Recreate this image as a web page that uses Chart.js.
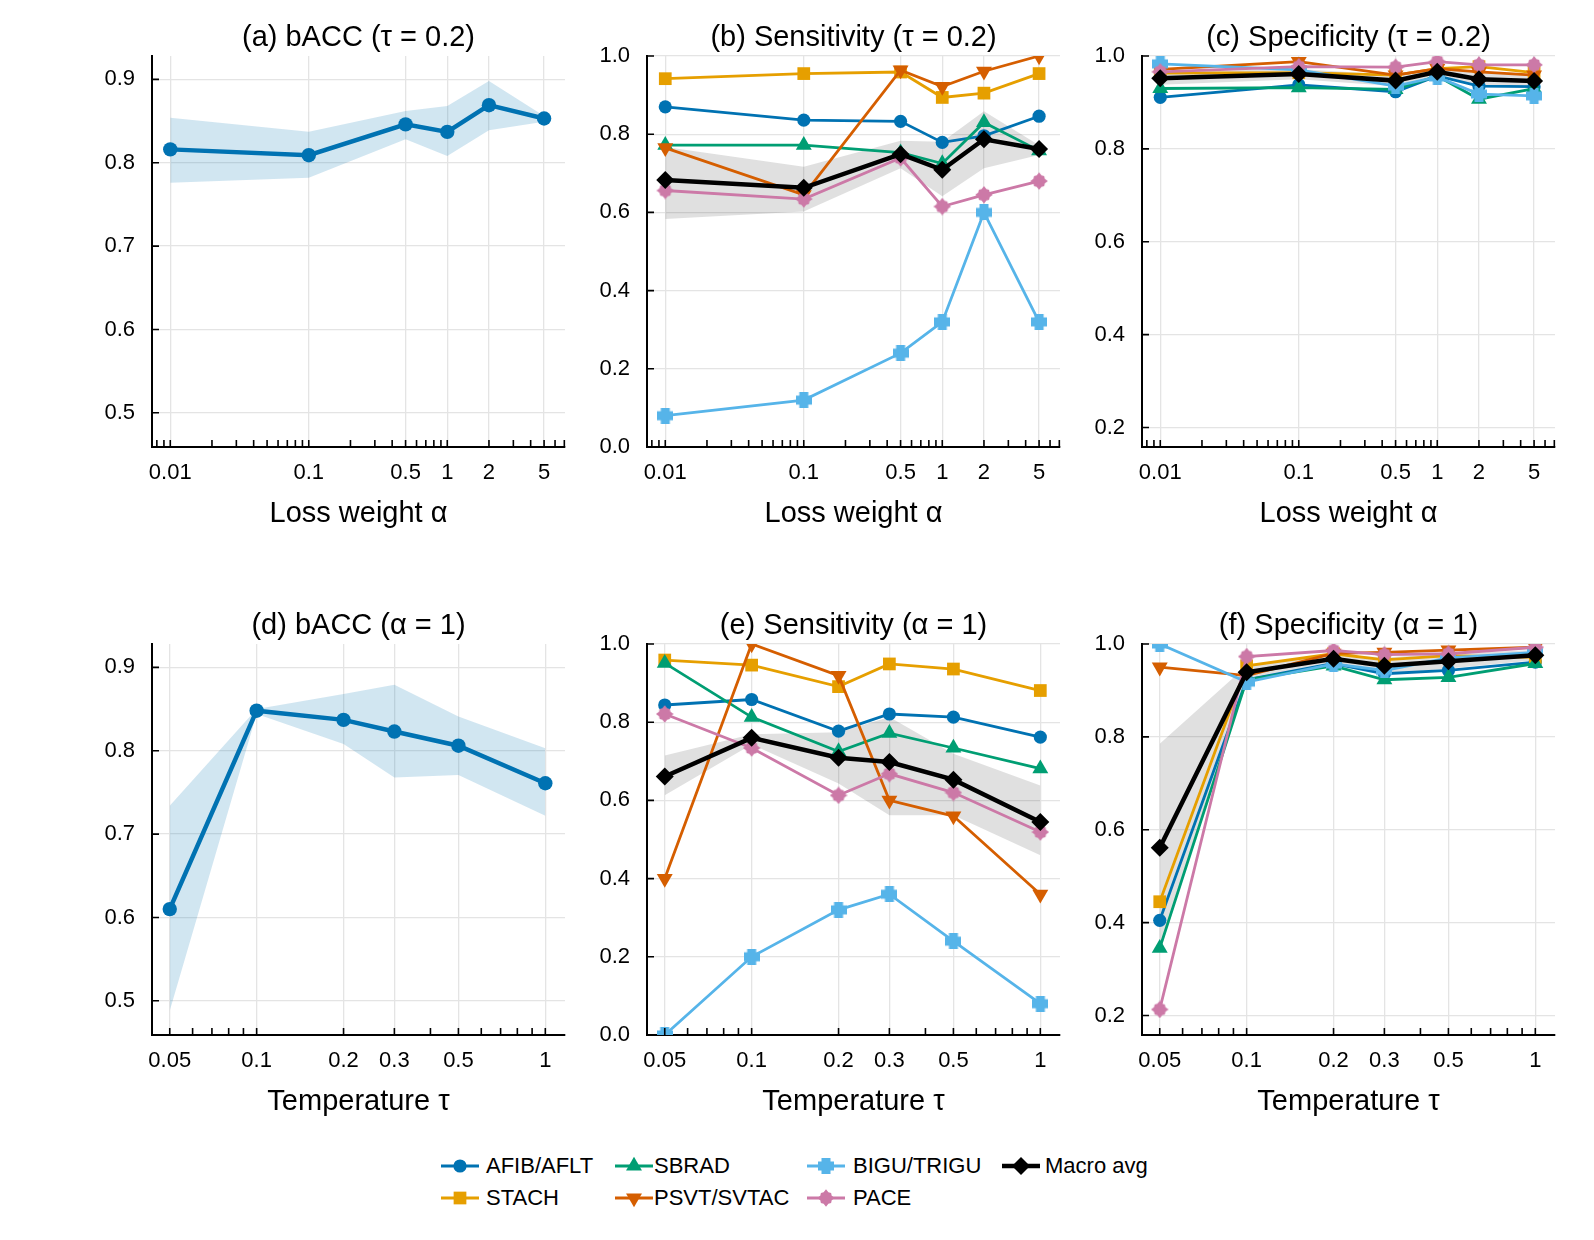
<!DOCTYPE html>
<html>
<head>
<meta charset="utf-8">
<script src="https://cdn.jsdelivr.net/npm/chart.js@4.4.1/dist/chart.umd.min.js"></script>
<style>
  body { margin: 0; background: #fff; width: 1594px; height: 1240px; position: relative; overflow: hidden;
         font-family: 'Liberation Sans', Arial, Helvetica, sans-serif; }
  canvas.panel { position: absolute; }
  .leg-icon { position: absolute; }
  .leg-text { position: absolute; font-size: 22px; line-height: 24px; color: #000; white-space: nowrap; }
</style>
</head>
<body>
<canvas class="panel" id="pa"></canvas>
<canvas class="panel" id="pb"></canvas>
<canvas class="panel" id="pc"></canvas>
<canvas class="panel" id="pd"></canvas>
<canvas class="panel" id="pe"></canvas>
<canvas class="panel" id="pf"></canvas>
<div id="legend"></div>

<script>
// ---- data ----
const alphas = [0.01, 0.1, 0.5, 1, 2, 5];
const taus = [0.05, 0.1, 0.2, 0.3, 0.5, 1];
const alphaTickLabels = ['0.01', '0.1', '0.5', '1', '2', '5'];
const tauTickLabels = ['0.05', '0.1', '0.2', '0.3', '0.5', '1'];
const baccTicks = [0.5, 0.6, 0.7, 0.8, 0.9];
const sensTicks = [0.0, 0.2, 0.4, 0.6, 0.8, 1.0];
const specTicks = [0.2, 0.4, 0.6, 0.8, 1.0];

const classNames = ['AFIB/AFLT', 'STACH', 'SBRAD', 'PSVT/SVTAC', 'BIGU/TRIGU', 'PACE'];

// (a) bACC vs alpha (tau = 0.2)
const baccAlpha   = [0.816, 0.809, 0.846, 0.837, 0.869, 0.853];
const baccAlphaLo = [0.776, 0.782, 0.828, 0.808, 0.839, 0.849];
const baccAlphaHi = [0.854, 0.837, 0.862, 0.868, 0.898, 0.856];

// (d) bACC vs tau (alpha = 1)
const baccTau   = [0.610, 0.848, 0.837, 0.823, 0.806, 0.761];
const baccTauLo = [0.488, 0.844, 0.808, 0.768, 0.771, 0.722];
const baccTauHi = [0.734, 0.850, 0.868, 0.879, 0.841, 0.803];

// (b) sensitivity vs alpha, one row per class (classNames order)
const sensAlpha = [
  [0.870, 0.836, 0.833, 0.779, 0.796, 0.846],
  [0.942, 0.955, 0.959, 0.894, 0.905, 0.955],
  [0.772, 0.772, 0.753, 0.725, 0.830, 0.758],
  [0.765, 0.645, 0.964, 0.922, 0.961, 1.000],
  [0.080, 0.120, 0.240, 0.320, 0.600, 0.320],
  [0.656, 0.634, 0.739, 0.615, 0.645, 0.680]
];
const sensAlphaMacro = [0.683, 0.663, 0.749, 0.709, 0.787, 0.762];
const sensAlphaLo    = [0.583, 0.602, 0.713, 0.641, 0.713, 0.747];
const sensAlphaHi    = [0.767, 0.717, 0.783, 0.781, 0.859, 0.772];

// (c) specificity vs alpha
const specAlpha = [
  [0.911, 0.938, 0.923, 0.957, 0.935, 0.934],
  [0.963, 0.964, 0.959, 0.973, 0.977, 0.964],
  [0.930, 0.932, 0.928, 0.957, 0.907, 0.930],
  [0.971, 0.988, 0.959, 0.973, 0.966, 0.959],
  [0.983, 0.970, 0.935, 0.955, 0.918, 0.914],
  [0.966, 0.977, 0.976, 0.988, 0.981, 0.981]
];
const specAlphaMacro = [0.952, 0.961, 0.947, 0.966, 0.950, 0.946];
const specAlphaLo    = [0.938, 0.950, 0.935, 0.958, 0.935, 0.934];
const specAlphaHi    = [0.966, 0.972, 0.959, 0.974, 0.965, 0.958];

// (e) sensitivity vs tau
const sensTau = [
  [0.844, 0.858, 0.777, 0.821, 0.813, 0.762],
  [0.959, 0.946, 0.891, 0.949, 0.936, 0.881],
  [0.951, 0.813, 0.725, 0.772, 0.734, 0.681],
  [0.400, 1.000, 0.919, 0.600, 0.560, 0.360],
  [0.000, 0.200, 0.320, 0.360, 0.240, 0.080],
  [0.821, 0.734, 0.613, 0.668, 0.620, 0.519]
];
const sensTauMacro = [0.661, 0.760, 0.709, 0.698, 0.653, 0.545];
const sensTauLo    = [0.613, 0.743, 0.643, 0.562, 0.562, 0.460];
const sensTauHi    = [0.715, 0.769, 0.774, 0.813, 0.719, 0.638];

// (f) specificity vs tau
const specTau = [
  [0.405, 0.923, 0.958, 0.936, 0.943, 0.961],
  [0.445, 0.953, 0.979, 0.966, 0.975, 0.971],
  [0.345, 0.923, 0.953, 0.923, 0.928, 0.958],
  [0.950, 0.932, 0.980, 0.982, 0.987, 0.993],
  [1.000, 0.918, 0.957, 0.943, 0.970, 0.982],
  [0.213, 0.973, 0.986, 0.977, 0.979, 0.993]
];
const specTauMacro = [0.561, 0.939, 0.968, 0.953, 0.963, 0.976];
const specTauLo    = [0.337, 0.925, 0.958, 0.935, 0.947, 0.965];
const specTauHi    = [0.785, 0.953, 0.978, 0.971, 0.979, 0.987];

// ---- styles ----
const FONT = "'Liberation Sans', Arial, Helvetica, sans-serif";
const classColors = ['#0072B2', '#E69F00', '#009E73', '#D55E00', '#56B4E9', '#CC79A7'];
const BLUE_BAND = 'rgba(0, 114, 178, 0.18)';
const GRAY_BAND = 'rgba(0, 0, 0, 0.12)';

function plusMarker(color) {
  const c = document.createElement('canvas');
  c.width = 16; c.height = 16;
  const g = c.getContext('2d');
  g.fillStyle = color;
  g.fillRect(3.5, 0, 9, 16);
  g.fillRect(0, 3.5, 16, 9);
  return c;
}

function starMarker(color) {
  const c = document.createElement('canvas');
  c.width = 18; c.height = 18;
  const g = c.getContext('2d');
  g.fillStyle = color;
  g.beginPath();
  for (let i = 0; i < 16; i++) {
    const r = i % 2 === 0 ? (i % 4 === 0 ? 8.8 : 7.2) : 6.2;
    const a = -Math.PI / 2 + i * Math.PI / 8;
    const px = 9 + r * Math.cos(a), py = 9 + r * Math.sin(a);
    if (i === 0) g.moveTo(px, py); else g.lineTo(px, py);
  }
  g.closePath();
  g.fill();
  return c;
}

// marker per class
const classPoints = [
  { point: 'circle', radius: 6.6 },
  { point: 'rect', radius: 9 },
  { point: 'triangle', radius: 9.2 },
  { point: 'triangle', radius: 9.2, rotation: 180 },
  { point: plusMarker(classColors[4]), radius: 8 },
  { point: starMarker(classColors[5]), radius: 9 }
];
const macroStyle = { color: '#000', width: 4.5, point: 'rectRot', radius: 9 };

// inward tick marks, like the reference
const innerTicks = {
  id: 'innerTicks',
  afterDatasetsDraw(chart) {
    const { ctx, chartArea: a, scales: { x, y } } = chart;
    ctx.save();
    ctx.strokeStyle = '#000';
    ctx.lineWidth = 1.6;
    ctx.beginPath();
    for (let e = -3; e <= 1; e++) {
      for (let m = 1; m <= 9; m++) {
        const v = m * Math.pow(10, e);
        if (v < x.min || v > x.max) continue;
        const px = x.getPixelForValue(v);
        ctx.moveTo(px, a.bottom);
        ctx.lineTo(px, a.bottom - 7);
      }
    }
    y.ticks.forEach(t => {
      const py = y.getPixelForValue(t.value);
      ctx.moveTo(a.left, py);
      ctx.lineTo(a.left + 7, py);
    });
    ctx.stroke();
    ctx.restore();
  }
};

function pts(xs, ys) {
  return xs.map((x, i) => ({ x, y: ys[i] }));
}

function lineSet(label, xs, ys, st, order) {
  return {
    label,
    data: pts(xs, ys),
    borderColor: st.color,
    backgroundColor: st.color,
    borderWidth: st.width,
    pointStyle: st.point,
    pointRadius: st.radius,
    pointRotation: st.rotation || 0,
    pointBackgroundColor: st.color,
    pointBorderColor: st.color,
    pointBorderWidth: 0,
    fill: false,
    tension: 0,
    clip: 0,
    order
  };
}

function bandSets(xs, lo, hi, color) {
  return [
    { data: pts(xs, lo), borderWidth: 0, pointRadius: 0, fill: false, order: 20, clip: 0 },
    { data: pts(xs, hi), borderWidth: 0, pointRadius: 0, fill: '-1', backgroundColor: color, order: 20, clip: 0 }
  ];
}

function classSets(xs, rows, macro, lo, hi) {
  const sets = bandSets(xs, lo, hi, GRAY_BAND);
  rows.forEach((ys, k) => {
    sets.push(lineSet(classNames[k], xs, ys, {
      color: classColors[k], width: 2.8,
      point: classPoints[k].point, radius: classPoints[k].radius, rotation: classPoints[k].rotation
    }, 10 - k));
  });
  sets.push(lineSet('Macro avg', xs, macro, macroStyle, 0));
  return sets;
}

const SIDE = 95, PLOT_W = 413;
function makePanel(id, plotLeft, top, opts) {
  const W = PLOT_W + 2 * SIDE, H = 537;
  const cv = document.getElementById(id);
  cv.width = W; cv.height = H;
  cv.style.left = (plotLeft - SIDE) + 'px';
  cv.style.top = top + 'px';
  cv.style.width = W + 'px';
  cv.style.height = H + 'px';
  new Chart(cv, {
    type: 'line',
    data: { datasets: opts.datasets },
    plugins: [innerTicks],
    options: {
      responsive: false,
      animation: false,
      events: [],
      devicePixelRatio: 1,
      layout: { padding: { left: 0, right: SIDE, top: 0, bottom: 0 } },
      plugins: {
        legend: { display: false },
        tooltip: { enabled: false },
        title: {
          display: true, text: opts.title, color: '#000', fullSize: false,
          font: { family: FONT, size: 29, weight: 'normal' },
          padding: { top: 21, bottom: 0.2 }
        }
      },
      scales: {
        x: {
          type: 'logarithmic',
          min: opts.xMin, max: opts.xMax,
          afterBuildTicks: s => { s.ticks = opts.xTicks.map(v => ({ value: v })); },
          afterFit: s => { s.height = 90; },
          ticks: {
            color: '#000', padding: 13, maxRotation: 0, autoSkip: false,
            font: { family: FONT, size: 22 },
            callback: (v, i) => opts.xLabels[i]
          },
          grid: { color: '#e4e4e4', lineWidth: 1.3, drawTicks: false },
          border: { display: true, color: '#000', width: 2 },
          title: {
            display: true, text: opts.xTitle, color: '#000',
            font: { family: FONT, size: 29 },
            padding: { top: 0, bottom: 6 }
          }
        },
        y: {
          type: 'linear',
          min: opts.yMin, max: opts.yMax,
          afterBuildTicks: s => { s.ticks = opts.yTicks.map(v => ({ value: v })); },
          afterFit: s => { s.width = SIDE; },
          ticks: {
            color: '#000', padding: 17,
            font: { family: FONT, size: 22 },
            callback: v => v.toFixed(1)
          },
          grid: { color: '#e4e4e4', lineWidth: 1.3, drawTicks: false },
          border: { display: true, color: '#000', width: 2 }
        }
      }
    }
  });
}

const colLeft = [152, 647, 1142];
const rowTop = [0, 588];
const alphaAxis = { xMin: 0.00738, xMax: 7.08, xTicks: alphas, xLabels: alphaTickLabels, xTitle: 'Loss weight α' };
const tauAxis = { xMin: 0.0434, xMax: 1.17, xTicks: taus, xLabels: tauTickLabels, xTitle: 'Temperature τ' };
const baccStyle = { color: '#0072B2', width: 4.5, point: 'circle', radius: 7.2 };

makePanel('pa', colLeft[0], rowTop[0], Object.assign({}, alphaAxis, {
  title: '(a) bACC (τ = 0.2)', yMin: 0.459, yMax: 0.928, yTicks: baccTicks,
  datasets: bandSets(alphas, baccAlphaLo, baccAlphaHi, BLUE_BAND).concat([lineSet('bACC', alphas, baccAlpha, baccStyle, 0)])
}));
makePanel('pb', colLeft[1], rowTop[0], Object.assign({}, alphaAxis, {
  title: '(b) Sensitivity (τ = 0.2)', yMin: 0, yMax: 1, yTicks: sensTicks,
  datasets: classSets(alphas, sensAlpha, sensAlphaMacro, sensAlphaLo, sensAlphaHi)
}));
makePanel('pc', colLeft[2], rowTop[0], Object.assign({}, alphaAxis, {
  title: '(c) Specificity (τ = 0.2)', yMin: 0.158, yMax: 1, yTicks: specTicks,
  datasets: classSets(alphas, specAlpha, specAlphaMacro, specAlphaLo, specAlphaHi)
}));
makePanel('pd', colLeft[0], rowTop[1], Object.assign({}, tauAxis, {
  title: '(d) bACC (α = 1)', yMin: 0.459, yMax: 0.928, yTicks: baccTicks,
  datasets: bandSets(taus, baccTauLo, baccTauHi, BLUE_BAND).concat([lineSet('bACC', taus, baccTau, baccStyle, 0)])
}));
makePanel('pe', colLeft[1], rowTop[1], Object.assign({}, tauAxis, {
  title: '(e) Sensitivity (α = 1)', yMin: 0, yMax: 1, yTicks: sensTicks,
  datasets: classSets(taus, sensTau, sensTauMacro, sensTauLo, sensTauHi)
}));
makePanel('pf', colLeft[2], rowTop[1], Object.assign({}, tauAxis, {
  title: '(f) Specificity (α = 1)', yMin: 0.158, yMax: 1, yTicks: specTicks,
  datasets: classSets(taus, specTau, specTauMacro, specTauLo, specTauHi)
}));

// ---- legend (column-major, 4 columns) ----
const legendSlots = [
  { k: 0, x: 441, y: 1166, tx: 486 },
  { k: 1, x: 441, y: 1198, tx: 486 },
  { k: 2, x: 615, y: 1166, tx: 654 },
  { k: 3, x: 615, y: 1198, tx: 654 },
  { k: 4, x: 807, y: 1166, tx: 853 },
  { k: 5, x: 807, y: 1198, tx: 853 },
  { k: 6, x: 1002, y: 1166, tx: 1045 }
];
const legendBox = document.getElementById('legend');
legendSlots.forEach(s => {
  const isMacro = s.k === 6;
  const color = isMacro ? '#000' : classColors[s.k];
  const pstyle = isMacro ? macroStyle : classPoints[s.k];
  const cv = document.createElement('canvas');
  cv.className = 'leg-icon';
  cv.width = 38; cv.height = 22;
  cv.style.left = s.x + 'px';
  cv.style.top = (s.y - 11) + 'px';
  legendBox.appendChild(cv);
  const g = cv.getContext('2d');
  g.strokeStyle = color;
  g.fillStyle = color;
  g.lineWidth = isMacro ? 4.5 : 2.8;
  g.beginPath(); g.moveTo(0, 11); g.lineTo(38, 11); g.stroke();
  Chart.helpers.drawPoint(g, {
    pointStyle: pstyle.point, rotation: pstyle.rotation || 0,
    radius: pstyle.radius, borderWidth: 0
  }, 19, 11);
  const t = document.createElement('div');
  t.className = 'leg-text';
  t.textContent = isMacro ? 'Macro avg' : classNames[s.k];
  t.style.left = s.tx + 'px';
  t.style.top = (s.y - 12) + 'px';
  legendBox.appendChild(t);
});
</script>
</body>
</html>
